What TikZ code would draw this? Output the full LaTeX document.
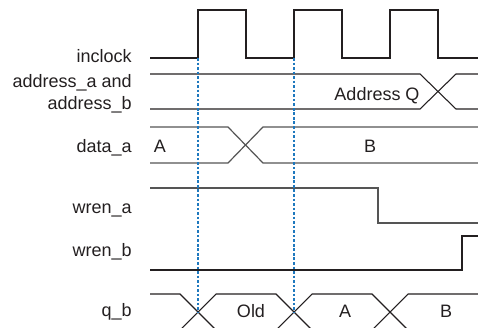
\documentclass[tikz,border=0pt]{standalone}
\usepackage{fontspec}
\setmainfont{Liberation Sans}
\usetikzlibrary{positioning}
\definecolor{markblue}{RGB}{30,120,190}
\definecolor{wavegray}{RGB}{35,31,32}
\definecolor{busgray}{RGB}{85,85,85}

\begin{document}
\begin{tikzpicture}[
    x=0.75pt, y=-0.75pt,
    wave/.style={draw=wavegray, line width=0.8pt},
    bus/.style={draw=busgray, line width=0.9pt},
    marker/.style={draw=markblue, line width=0.8pt, dash pattern=on 2pt off 1.4pt},
    sig/.style={anchor=base east, inner sep=0pt, text=wavegray, font=\fontsize{13.5}{16}\selectfont},
    val/.style={anchor=base, inner sep=0pt, text=wavegray, font=\fontsize{13.5}{16}\selectfont}
]
\useasboundingbox (0,0) rectangle (478,328);
\clip (0,0) rectangle (478,328);

% Signal names
\node[sig] (inclock) at (132,63) {inclock};
\node[sig] (addra) at (132,88) {address\_a and};
\node[sig] (addrb) at (132,109) {address\_b};
\node[sig] (dataa) at (132,152) {data\_a};
\node[sig] (wrena) at (132,213) {wren\_a};
\node[sig] (wrenb) at (132,256) {wren\_b};
\node[sig] (qb) at (132,316) {q\_b};

% Clock
\draw[wave] (150,58) -- (198,58) -- (198,10) -- (246,10) -- (246,58) -- (294,58)
    -- (294,10) -- (342,10) -- (342,58) -- (390,58) -- (390,10) -- (438,10)
    -- (438,58) -- (478,58);

% Address bus
\draw[wave] (150,74) -- (420,74) -- (456,109) -- (478,109);
\draw[wave] (150,109) -- (420,109) -- (456,74) -- (478,74);
\node[val] (addrq) at (377,100) {Address Q};

% Data bus
\draw[bus] (150,127) -- (228,127) -- (263,163) -- (478,163);
\draw[bus] (150,163) -- (228,163) -- (263,127) -- (478,127);
\node[val] (dataA) at (160,152) {A};
\node[val] (dataB) at (370,152) {B};

% Write enables
\draw[bus] (150,188) -- (378,188) -- (378,223) -- (478,223);
\draw[wave] (150,270) -- (462,270) -- (462,236) -- (478,236);

% Output q_b
\draw[wave] (150,294) -- (180,294) -- (216,330);
\draw[wave] (180,330) -- (216,294) -- (276,294) -- (312,330);
\draw[wave] (276,330) -- (312,294) -- (372,294) -- (408,330);
\draw[wave] (372,330) -- (408,294) -- (478,294);
\node[val] (qold) at (251,317) {Old};
\node[val] (qA) at (345,317) {A};
\node[val] (qB) at (446,317) {B};

% Edge markers
\draw[marker] (198,58) -- (198,312);
\draw[marker] (294,58) -- (294,312);

\end{tikzpicture}
\end{document}
